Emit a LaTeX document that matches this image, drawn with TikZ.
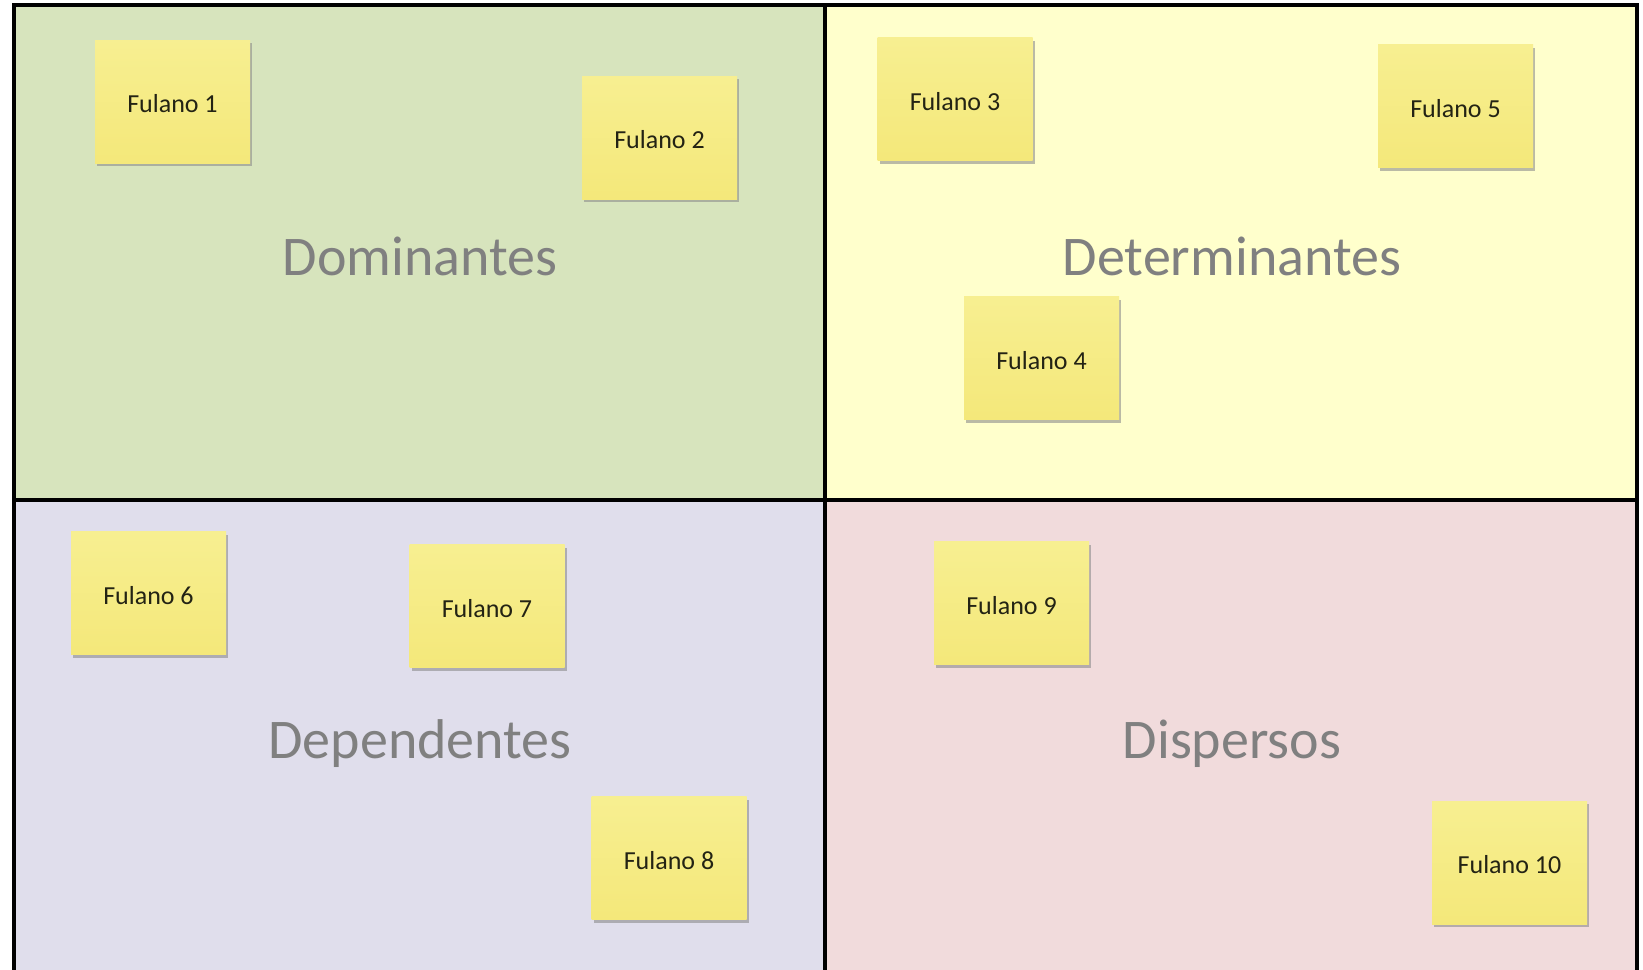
\documentclass[tikz,border=0pt]{standalone}
\usepackage{fontspec}
\setmainfont{Carlito}
\usetikzlibrary{shadows}
\definecolor{qgreen}{RGB}{215,228,189}
\definecolor{qyellow}{RGB}{255,255,204}
\definecolor{qlav}{RGB}{224,222,236}
\definecolor{qpink}{RGB}{241,219,220}
\definecolor{notetop}{RGB}{247,239,145}
\definecolor{notebot}{RGB}{244,232,122}
\definecolor{labgray}{RGB}{128,128,128}
\definecolor{notetext}{RGB}{35,35,20}
\tikzset{
  sticky/.style={rectangle, inner sep=0pt, minimum width=155pt, minimum height=123pt,
    top color=notetop, bottom color=notebot,
    drop shadow={shadow xshift=2pt, shadow yshift=-3pt, fill=black!45, opacity=0.6},
    text=notetext, font=\fontsize{26}{30}\selectfont, text height=22pt, text depth=0pt},
  quadlabel/.style={text=labgray, font=\fontsize{56}{62}\selectfont, inner sep=0pt},
  frameline/.style={line width=4pt, draw=black}
}
\begin{document}
\begin{tikzpicture}[x=1pt,y=-1pt]
\useasboundingbox (0,0) rectangle (1643,969);
\fill[white] (0,0) rectangle (1643,969);
% quadrants
\fill[qgreen]  (14,5) rectangle (825,500);
\fill[qyellow] (825,5) rectangle (1637,500);
\fill[qlav]    (14,500) rectangle (825,972);
\fill[qpink]   (825,500) rectangle (1637,972);
% frame
\draw[frameline] (14,980) -- (14,5) -- (1637,5) -- (1637,980);
\draw[frameline] (825,5) -- (825,980);
\draw[frameline] (14,500) -- (1637,500);
% labels
\node[quadlabel] (dom) at (420,256) {Dominantes};
\node[quadlabel] (det) at (1232,256) {Determinantes};
\node[quadlabel] (dep) at (420,744) {Dependentes};
\node[quadlabel] (dis) at (1232,744) {Dispersos};
% sticky notes
\node[sticky] (f1) at (172.5,101.5) {Fulano 1};
\node[sticky] (f2) at (659.5,137.5) {Fulano 2};
\node[sticky] (f3) at (955,99) {Fulano 3};
\node[sticky] (f4) at (1041.5,358) {Fulano 4};
\node[sticky] (f5) at (1455.5,106) {Fulano 5};
\node[sticky] (f6) at (148.5,593) {Fulano 6};
\node[sticky] (f7) at (487,606) {Fulano 7};
\node[sticky] (f8) at (669,858) {Fulano 8};
\node[sticky] (f9) at (1011.5,603) {Fulano 9};
\node[sticky] (f10) at (1509.5,862.5) {Fulano 10};
\end{tikzpicture}
\end{document}
